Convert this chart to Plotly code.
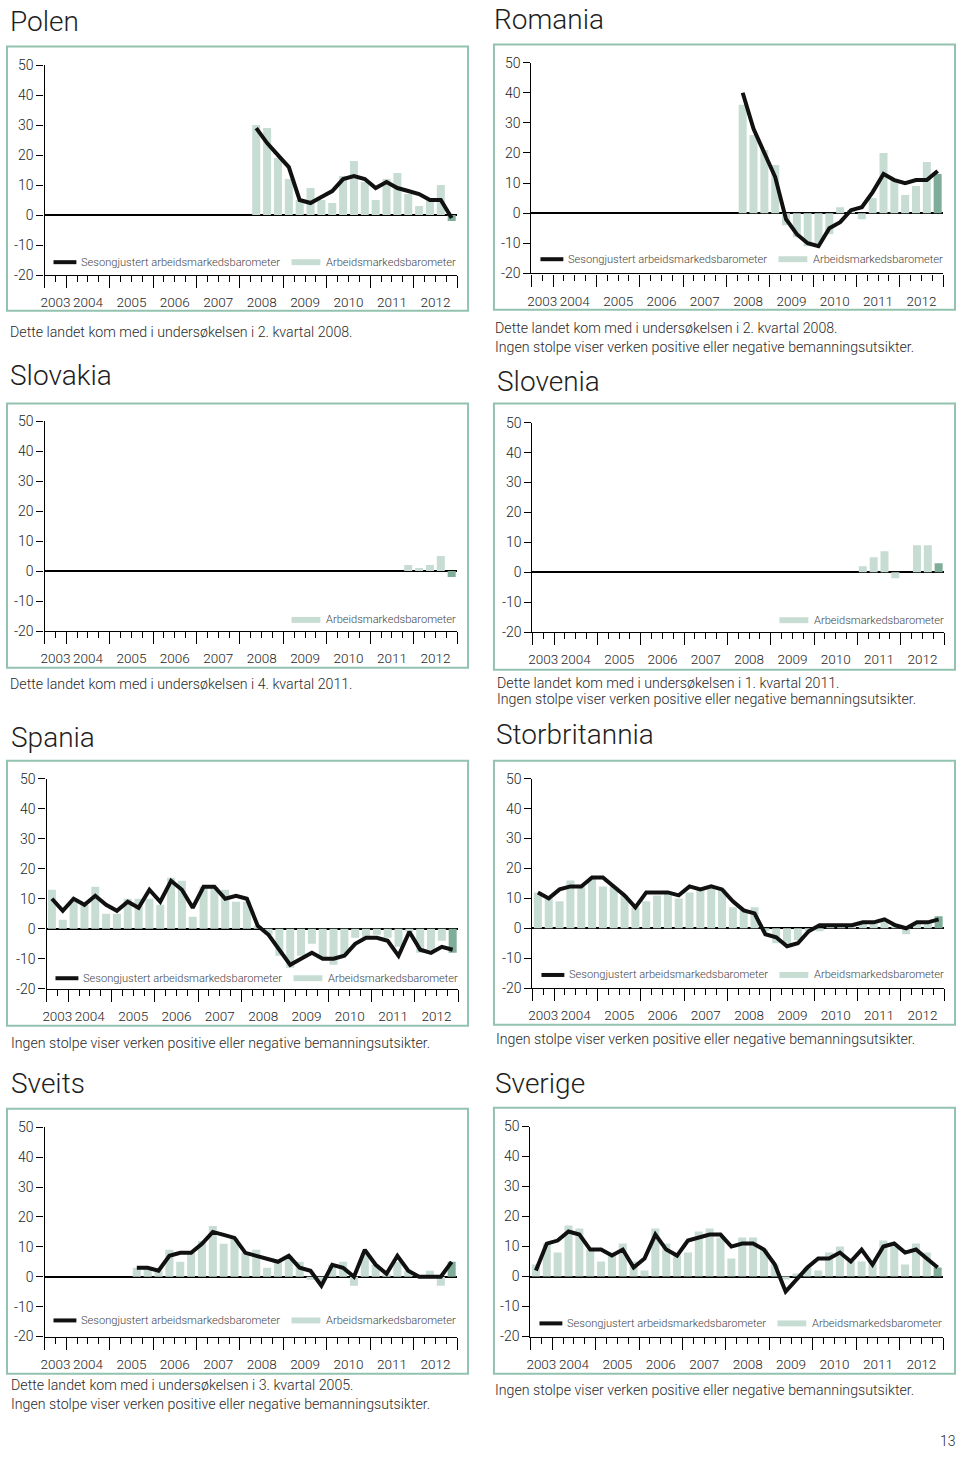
import plotly.graph_objects as go

W, H = 960, 1457

# ---------------- data ----------------
QUARTERS = [f"{y}Q{q}" for y in range(2003, 2013) for q in range(1, 5)][2:]  # 2003Q3 .. 2012Q4
YEARS = ["2003", "2004", "2005", "2006", "2007", "2008", "2009", "2010", "2011", "2012"]
Y_TICKS = [-20, -10, 0, 10, 20, 30, 40, 50]
Y_TICKTEXT = ["-20", "-10", "0", "10", "20", "30", "40", "50"]

polen_start = "2008Q2"
polen_bars = [30, 29, 19, 12, 5, 9, 5, 4, 13, 18, 11, 5, 12, 14, 7, 3, 5, 10, -2]
polen_line = [29, 24, 20, 16, 5, 4, 6, 8, 12, 13, 12, 9, 11, 9, 8, 7, 5, 5, -1]

romania_start = "2008Q2"
romania_bars = [36, 26, 21, 16, -4, -8, -11, -10, -7, 2, 1, -2, 5, 20, 11, 6, 9, 17, 13]
romania_line = [40, 28, 20, 12, -2, -7, -10, -11, -5, -3, 1, 2, 7, 13, 11, 10, 11, 11, 14]

slovakia_start = "2011Q4"
slovakia_bars = [2, 1, 2, 5, -2]

slovenia_start = "2011Q1"
slovenia_bars = [2, 5, 7, -2, 0, 9, 9, 3]

spania_start = "2003Q3"
spania_bars = [13, 3, 9, 8, 14, 5, 5, 10, 10, 10, 8, 17, 16, 4, 14, 14, 13, 9, 9, 1,
               -2, -9, -13, -9, -5, -10, -12, -9, -3, -3, -2, -3, -6, -1, -8, -7, -4, -8]
spania_line = [10, 6, 10, 8, 11, 8, 6, 9, 7, 13, 9, 16, 13, 7, 14, 14, 10, 11, 10, 1,
               -2, -7, -12, -10, -8, -10, -10, -9, -5, -3, -3, -4, -9, -1, -7, -8, -6, -7]

storbritannia_start = "2003Q3"
storbritannia_bars = [12, 10, 9, 16, 14, 17, 14, 14, 11, 7, 9, 11, 12, 10, 12, 13, 14, 13, 7, 6,
                      7, -1, -5, -5, -4, -1, -1, 1, 1, 1, 2, 2, 3, 1, -2, 2, 2, 4]
storbritannia_line = [12, 10, 13, 14, 14, 17, 17, 14, 11, 7, 12, 12, 12, 11, 14, 13, 14, 13, 9, 6,
                      5, -2, -3, -6, -5, -1, 1, 1, 1, 1, 2, 2, 3, 1, 0, 2, 2, 3]

sveits_start = "2005Q3"
sveits_bars = [3, 3, 2, 9, 5, 8, 12, 17, 11, 13, 8, 9, 3, 5, 7, 5, -1, -2, 4, 5,
               -3, 8, 4, 1, 5, 2, 0, 2, -3, 5]
sveits_line = [3, 3, 2, 7, 8, 8, 11, 15, 14, 13, 8, 7, 6, 5, 7, 3, 2, -3, 4, 3,
               0, 9, 4, 1, 7, 2, 0, 0, 0, 5]

sverige_start = "2003Q3"
sverige_bars = [4, 11, 8, 17, 16, 9, 5, 8, 11, 5, 2, 16, 11, 7, 8, 15, 16, 13, 6, 13,
                13, 9, 4, -1, 1, 3, 2, 8, 10, 5, 5, 5, 12, 10, 4, 11, 8, 3]
sverige_line = [2, 11, 12, 15, 14, 9, 9, 7, 9, 3, 6, 14, 9, 7, 12, 13, 14, 14, 10, 11,
                11, 9, 4, -5, -1, 3, 6, 6, 8, 5, 9, 4, 10, 11, 8, 9, 6, 3]

LEG_LINE = "Sesongjustert arbeidsmarkedsbarometer"
LEG_BAR = "Arbeidsmarkedsbarometer"
CAP_NONE = "Ingen stolpe viser verken positive eller negative bemanningsutsikter."

# ---------------- style ----------------
FONT = "Roboto, Liberation Sans, Arial, sans-serif"
WT = 300
LIGHT = "#c7ddd3"
DARK = "#80ad99"
BORDER = "#93c2ae"
TXT = "#1e1e1e"

def px(x):
    return x / W

def py(y):
    return 1 - y / H

panels = [
    dict(name="Polen", start=polen_start, bars=polen_bars, line=polen_line,
         L=40.7, R=455, T=57.7, B=270, box=(3, 39, 466, 306), title=(4, 14), leg_y=257,
         captions=[(4, 328, "Dette landet kom med i undersøkelsen i 2. kvartal 2008.")]),
    dict(name="Romania", start=romania_start, bars=romania_bars, line=romania_line,
         L=529.7, R=943, T=55.3, B=268.3, box=(492, 37, 955, 305), title=(490, 12), leg_y=254,
         captions=[(491, 324, "Dette landet kom med i undersøkelsen i 2. kvartal 2008."),
                   (491, 343, CAP_NONE)]),
    dict(name="Slovakia", start=slovakia_start, bars=slovakia_bars, line=None,
         L=40.7, R=455, T=417.7, B=630, box=(3, 400, 466, 667), title=(4, 372), leg_y=618.7,
         captions=[(4, 684, "Dette landet kom med i undersøkelsen i 4. kvartal 2011.")]),
    dict(name="Slovenia", start=slovenia_start, bars=slovenia_bars, line=None,
         L=530.7, R=944, T=419.3, B=631, box=(492, 400, 955, 669), title=(493, 378), leg_y=619,
         captions=[(493, 682, "Dette landet kom med i undersøkelsen i 1. kvartal 2011."),
                   (493, 699, CAP_NONE)]),
    dict(name="Spania", start=spania_start, bars=spania_bars, line=spania_line,
         L=42.7, R=456, T=779.3, B=991.7, box=(3, 761, 466, 1029), title=(5, 738), leg_y=981,
         captions=[(5, 1046, CAP_NONE)]),
    dict(name="Storbritannia", start=storbritannia_start, bars=storbritannia_bars, line=storbritannia_line,
         L=530.7, R=944, T=779.3, B=991, box=(492, 761, 955, 1028), title=(492, 735), leg_y=977.7,
         captions=[(492, 1042, CAP_NONE)]),
    dict(name="Sveits", start=sveits_start, bars=sveits_bars, line=sveits_line,
         L=40.7, R=455, T=1131.7, B=1343.3, box=(3, 1113, 466, 1381), title=(5, 1087), leg_y=1327,
         captions=[(5, 1392, "Dette landet kom med i undersøkelsen i 3. kvartal 2005."),
                   (5, 1412, CAP_NONE)]),
    dict(name="Sverige", start=sverige_start, bars=sverige_bars, line=sverige_line,
         L=528.7, R=943, T=1131, B=1343.3, box=(492, 1112, 955, 1381), title=(491, 1087), leg_y=1330,
         captions=[(491, 1397, CAP_NONE)]),
]

n_q = len(QUARTERS)
year_bounds = [-0.5] + [i - 0.5 for i, q in enumerate(QUARTERS) if q.endswith("Q1")] + [n_q - 0.5]
quarter_bounds = [i - 0.5 for i in range(n_q + 1)]
year_centers = []
for yr in YEARS:
    idx = [i for i, q in enumerate(QUARTERS) if q.startswith(yr)]
    year_centers.append((idx[0] + idx[-1]) / 2)

fig = go.Figure()
layout = dict(width=W, height=H, margin=dict(l=0, r=0, t=0, b=0), autosize=False,
              paper_bgcolor="white", plot_bgcolor="white", showlegend=False)
shapes = []
annotations = []

for k, p in enumerate(panels, start=1):
    xa = f"x{k}"
    ya = f"y{k}"
    xlab = f"x{k + 8}"
    s = QUARTERS.index(p["start"])
    xs = list(range(s, s + len(p["bars"])))
    colors = [LIGHT] * (len(p["bars"]) - 1) + [DARK]
    fig.add_trace(go.Bar(x=xs, y=p["bars"], width=0.74, marker=dict(color=colors, line=dict(width=0)),
                         xaxis=xa, yaxis=ya, hoverinfo="skip"))
    if p["line"] is not None:
        xl = list(range(s, s + len(p["line"])))
        fig.add_trace(go.Scatter(x=xl, y=p["line"], mode="lines",
                                 line=dict(color="#111111", width=4),
                                 xaxis=xa, yaxis=ya, hoverinfo="skip"))
    # invisible trace so the year-label axis is drawn
    fig.add_trace(go.Scatter(x=year_centers, y=[0] * len(year_centers), mode="markers",
                             marker=dict(opacity=0), xaxis=xlab, yaxis=ya, hoverinfo="skip"))
    dom_x = [px(p["L"]), px(p["R"])]
    dom_y = [py(p["B"]), py(p["T"])]
    layout[f"xaxis{k}"] = dict(domain=dom_x, range=[-0.5, n_q - 0.5], anchor=ya,
                               showline=True, linecolor="black", linewidth=1.3,
                               ticks="outside", tickvals=year_bounds, ticklen=12,
                               tickwidth=1.3, tickcolor="black", showticklabels=False,
                               showgrid=False, zeroline=False, fixedrange=True,
                               minor=dict(tickvals=quarter_bounds, ticks="outside", ticklen=6,
                                          tickwidth=1.3, tickcolor="black", showgrid=False))
    layout[f"xaxis{k + 8}"] = dict(domain=dom_x, range=[-0.5, n_q - 0.5], anchor=ya,
                                   overlaying=xa, side="bottom", showline=False,
                                   ticks="outside", ticklen=15, tickcolor="rgba(0,0,0,0)",
                                   tickmode="array", tickvals=year_centers, ticktext=YEARS,
                                   tickfont=dict(family=FONT, size=13.5, color=TXT, weight=WT),
                                   showgrid=False, zeroline=False, fixedrange=True)
    layout[f"yaxis{k}"] = dict(domain=dom_y, range=[-20, 50], anchor=xa,
                               showline=True, linecolor="black", linewidth=1.3,
                               ticks="outside", ticklen=7, tickwidth=1.3, tickcolor="black",
                               tickmode="array", tickvals=Y_TICKS, ticktext=Y_TICKTEXT,
                               tickfont=dict(family=FONT, size=14, color=TXT, weight=WT),
                               showgrid=False, zeroline=True, zerolinecolor="black",
                               zerolinewidth=1.5, fixedrange=True)
    # panel frame
    x0, y0, x1, y1 = p["box"]
    shapes.append(dict(type="rect", xref="paper", yref="paper",
                       x0=px(x0), x1=px(x1), y0=py(y1), y1=py(y0),
                       line=dict(color=BORDER, width=2), fillcolor="rgba(0,0,0,0)"))
    # title
    annotations.append(dict(text=p["name"], x=px(p["title"][0]), y=py(p["title"][1]),
                            xref="paper", yref="paper", xanchor="left", yanchor="middle",
                            showarrow=False, font=dict(family=FONT, size=28, color=TXT, weight=WT)))
    # captions
    for cx, cy, ct in p["captions"]:
        annotations.append(dict(text=ct, x=px(cx), y=py(cy), xref="paper", yref="paper",
                                xanchor="left", yanchor="middle", showarrow=False,
                                font=dict(family=FONT, size=14.2, color="#2a2a2a", weight=WT)))
    # legend
    L = p["L"]
    ly = p["leg_y"]
    if p["line"] is not None:
        shapes.append(dict(type="line", xref="paper", yref="paper",
                           x0=px(L + 9), x1=px(L + 32), y0=py(ly), y1=py(ly),
                           line=dict(color="#111111", width=4)))
        annotations.append(dict(text=LEG_LINE, x=px(L + 35), y=py(ly), xref="paper", yref="paper",
                                xanchor="left", yanchor="middle", showarrow=False,
                                font=dict(family=FONT, size=11.1, color="#444444", weight=WT)))
    shapes.append(dict(type="rect", xref="paper", yref="paper",
                       x0=px(L + 248), x1=px(L + 277), y0=py(ly + 3), y1=py(ly - 3),
                       line=dict(width=0), fillcolor=LIGHT))
    annotations.append(dict(text=LEG_BAR, x=px(L + 281), y=py(ly), xref="paper", yref="paper",
                            xanchor="left", yanchor="middle", showarrow=False,
                            font=dict(family=FONT, size=11.1, color="#444444", weight=WT)))

annotations.append(dict(text="13", x=px(948), y=py(1449), xref="paper", yref="paper",
                        xanchor="center", yanchor="middle", showarrow=False,
                        font=dict(family=FONT, size=14, color="#2a2a2a", weight=WT)))

layout["shapes"] = shapes
layout["annotations"] = annotations
fig.update_layout(**layout)

POST = ("document.documentElement.style.margin='0';"
        "document.documentElement.style.overflow='hidden';"
        "document.body.style.margin='0';document.body.style.overflow='hidden';"
        "var gd=document.getElementById('{plot_id}');"
        "gd.style.position='fixed';gd.style.left='0px';gd.style.top='0px';")
fig.write_html("out.html", config={"displayModeBar": False, "responsive": False},
               post_script=POST)
